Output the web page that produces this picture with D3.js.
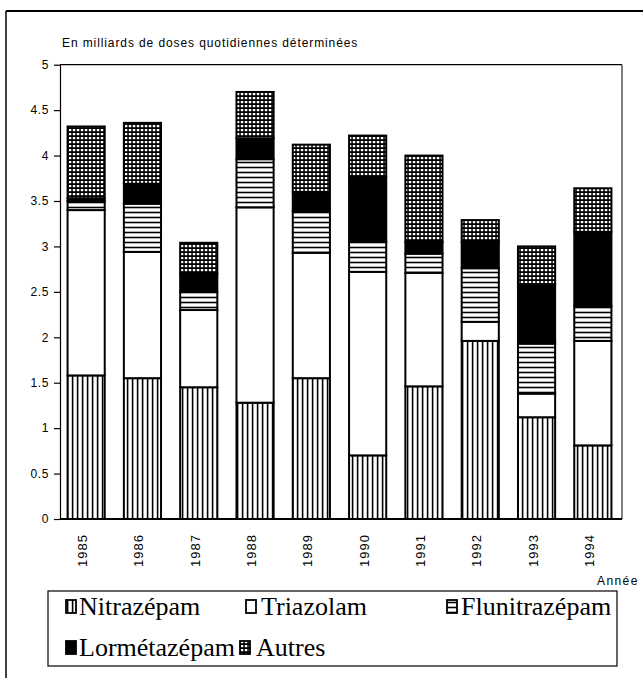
<!DOCTYPE html>
<html>
<head>
<meta charset="utf-8">
<script src="https://cdn.jsdelivr.net/npm/d3@7"></script>
<style>
  body { margin: 0; background: #fff; }
  svg { display: block; }
</style>
</head>
<body>
<svg id="chart" width="643" height="678"></svg>
<script>
// Consommation annuelle par molécule (milliards de DQD)
const years = ["1985", "1986", "1987", "1988", "1989", "1990", "1991", "1992", "1993", "1994"];
const nitrazepam    = [1.58, 1.55, 1.45, 1.28, 1.55, 0.70, 1.46, 1.96, 1.12, 0.81];
const triazolam     = [1.82, 1.39, 0.85, 2.15, 1.38, 2.02, 1.25, 0.21, 0.26, 1.15];
const flunitrazepam = [0.10, 0.53, 0.20, 0.53, 0.46, 0.33, 0.21, 0.59, 0.55, 0.38];
const lormetazepam  = [0.03, 0.22, 0.20, 0.23, 0.21, 0.72, 0.13, 0.29, 0.65, 0.82];
const autres        = [0.79, 0.67, 0.34, 0.51, 0.52, 0.45, 0.95, 0.24, 0.42, 0.48];

const seriesKeys  = ["nitrazepam", "triazolam", "flunitrazepam", "lormetazepam", "autres"];
const seriesNames = ["Nitrazépam", "Triazolam", "Flunitrazépam", "Lormétazépam", "Autres"];
const yTicks      = [0, 0.5, 1, 1.5, 2, 2.5, 3, 3.5, 4, 4.5, 5];
const yTickLabels = ["0", "0.5", "1", "1.5", "2", "2.5", "3", "3.5", "4", "4.5", "5"];

const rows = years.map((yr, i) => ({
  year: yr,
  nitrazepam: nitrazepam[i],
  triazolam: triazolam[i],
  flunitrazepam: flunitrazepam[i],
  lormetazepam: lormetazepam[i],
  autres: autres[i]
}));

const svg = d3.select("#chart");
const plot = { left: 60, right: 622, top: 64.7, bottom: 519 };

// Hatch patterns for the five series
const defs = svg.append("defs");
const pv = defs.append("pattern").attr("id", "p-vert").attr("patternUnits", "userSpaceOnUse")
  .attr("width", 5).attr("height", 10);
pv.append("rect").attr("width", 5).attr("height", 10).attr("fill", "#fff");
pv.append("rect").attr("x", 1.8).attr("width", 1.6).attr("height", 10).attr("fill", "#000");

const ph = defs.append("pattern").attr("id", "p-horiz").attr("patternUnits", "userSpaceOnUse")
  .attr("width", 10).attr("height", 5);
ph.append("rect").attr("width", 10).attr("height", 5).attr("fill", "#fff");
ph.append("rect").attr("y", 1.7).attr("width", 10).attr("height", 1.6).attr("fill", "#000");

const pg = defs.append("pattern").attr("id", "p-grid").attr("patternUnits", "userSpaceOnUse")
  .attr("width", 4).attr("height", 4);
pg.append("rect").attr("width", 4).attr("height", 4).attr("fill", "#000");
pg.append("rect").attr("x", 0.8).attr("y", 1).attr("width", 2.5).attr("height", 2.2).attr("fill", "#fff");

const fills = {
  nitrazepam: "url(#p-vert)",
  triazolam: "#fff",
  flunitrazepam: "url(#p-horiz)",
  lormetazepam: "#000",
  autres: "url(#p-grid)"
};

// Outer page frame
svg.append("line").attr("x1", 6).attr("x2", 643).attr("y1", 11).attr("y2", 11)
  .attr("stroke", "#000").attr("stroke-width", 2);
svg.append("line").attr("x1", 6).attr("x2", 6).attr("y1", 11).attr("y2", 678)
  .attr("stroke", "#000").attr("stroke-width", 1.5);

// Scales
const x = d3.scaleBand().domain(years).range([58, 621]).paddingInner(0.34).paddingOuter(0.17);
const y = d3.scaleLinear().domain([0, 5]).range([plot.bottom, plot.top]);

// Plot frame (top and right edges)
svg.append("line").attr("x1", plot.left).attr("x2", plot.right).attr("y1", plot.top).attr("y2", plot.top)
  .attr("stroke", "#000").attr("stroke-width", 1.2);
svg.append("line").attr("x1", plot.right).attr("x2", plot.right).attr("y1", plot.top).attr("y2", plot.bottom)
  .attr("stroke", "#000").attr("stroke-width", 1);

// Stacked bars
const stack = d3.stack().keys(seriesKeys);
const layers = stack(rows);

svg.append("g").selectAll("g")
  .data(layers)
  .join("g")
  .attr("fill", d => fills[d.key])
  .selectAll("rect")
  .data(d => d)
  .join("rect")
  .attr("x", d => x(d.data.year))
  .attr("width", x.bandwidth())
  .attr("y", d => y(d[1]))
  .attr("height", d => y(d[0]) - y(d[1]))
  .attr("stroke", "#000")
  .attr("stroke-width", 2);

// Y axis
const yAxis = d3.axisLeft(y)
  .tickValues(yTicks)
  .tickFormat((d, i) => yTickLabels[i])
  .tickSize(6)
  .tickSizeOuter(0);
const gy = svg.append("g").attr("transform", `translate(${plot.left},0)`).call(yAxis);
gy.select(".domain").attr("stroke-width", 1.2);
gy.selectAll(".tick line").attr("stroke-width", 1.2);
gy.selectAll(".tick text")
  .attr("x", -11)
  .attr("font-family", "'Liberation Sans', Arial, sans-serif")
  .attr("font-size", 12)
  .attr("letter-spacing", 0.6)
  .attr("fill", "#000");

// Baseline
svg.append("line").attr("x1", plot.left).attr("x2", plot.right).attr("y1", plot.bottom).attr("y2", plot.bottom)
  .attr("stroke", "#000").attr("stroke-width", 2.2);

// Year labels, rotated
svg.append("g").selectAll("text")
  .data(years)
  .join("text")
  .attr("transform", d => `translate(${x(d) + x.bandwidth() / 2 + 1},567) rotate(-90)`)
  .attr("font-family", "'Liberation Sans', Arial, sans-serif")
  .attr("font-size", 13)
  .attr("letter-spacing", 1)
  .attr("fill", "#000")
  .text(d => d);

// Axis titles
svg.append("text")
  .attr("x", 62).attr("y", 47)
  .attr("font-family", "'Liberation Sans', Arial, sans-serif")
  .attr("font-size", 12)
  .attr("letter-spacing", 0.9)
  .attr("fill", "#000")
  .text("En milliards de doses quotidiennes déterminées");

svg.append("text")
  .attr("x", 597).attr("y", 585)
  .attr("font-family", "'Liberation Sans', Arial, sans-serif")
  .attr("font-size", 12)
  .attr("letter-spacing", 1.4)
  .attr("fill", "#000")
  .text("Année");

// Legend
const legend = svg.append("g");
legend.append("rect")
  .attr("x", 48).attr("y", 591).attr("width", 569).attr("height", 75)
  .attr("fill", "#fff").attr("stroke", "#000").attr("stroke-width", 1.2);

const legendPos = [
  { icon: 66, text: 79, y: 615 },
  { icon: 246, text: 261, y: 615 },
  { icon: 447, text: 461, y: 615 },
  { icon: 66, text: 79, y: 656 },
  { icon: 240, text: 256, y: 656 }
];
seriesKeys.forEach((k, i) => {
  const p = legendPos[i];
  const g = legend.append("g");
  g.append("rect")
    .attr("x", p.icon).attr("y", p.y - 15).attr("width", 10).attr("height", 13)
    .attr("fill", fills[k]).attr("stroke", "#000").attr("stroke-width", 1.8);
  g.append("text")
    .attr("x", p.text).attr("y", p.y)
    .attr("font-family", "'Liberation Serif', 'Times New Roman', serif")
    .attr("font-size", 26)
    .attr("fill", "#000")
    .text(seriesNames[i]);
});
</script>
</body>
</html>
